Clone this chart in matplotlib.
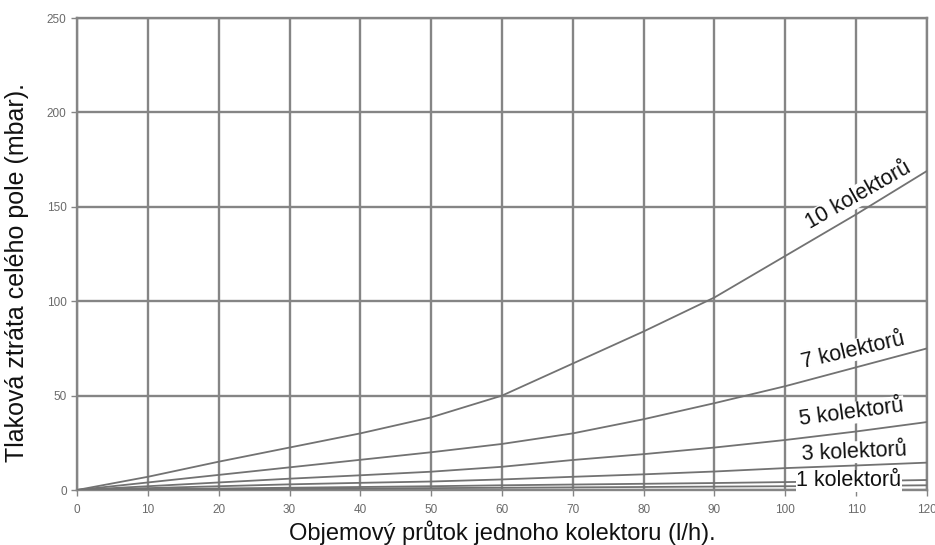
import matplotlib
matplotlib.use("Agg")
import matplotlib.pyplot as plt

plt.rcParams['font.family'] = ['Liberation Sans', 'DejaVu Sans']

# Data
flow = [0, 10, 20, 30, 40, 50, 60, 70, 80, 90, 100, 110, 120]
k10 = [0, 7, 15, 22.5, 30, 38.5, 50, 67, 84, 102, 124, 146, 169]
k7 = [0, 4, 8, 12, 16, 20, 24.4, 30, 37.5, 46, 55, 65, 75]
k5 = [0, 2, 4, 6, 7.8, 9.7, 12.3, 15.9, 19, 22.5, 26.5, 31, 36]
k3 = [0, 1, 2, 3, 3.8, 4.5, 5.6, 7, 8.3, 9.8, 11.6, 13, 14.5]
k1 = [0, 0.4, 0.8, 1.2, 1.6, 2, 2.5, 2.9, 3.3, 3.7, 4.2, 4.7, 5.3]
k0 = [0, 0.2, 0.4, 0.6, 0.8, 1, 1.2, 1.4, 1.6, 1.8, 2, 2.2, 2.5]

series = [k10, k7, k5, k3, k1, k0]
labels = ["10 kolektorů", "7 kolektorů", "5 kolektorů", "3 kolektorů", "1 kolektorů"]
label_pos = [(110.3, 156), (109.6, 74), (109.4, 40.8), (109.7, 20), (109, 4.8)]
label_rot = [29.5, 13, 7.5, 2.5, 0]

fig = plt.figure(figsize=(9.35, 5.45), dpi=100)
ax = fig.add_axes([0.0824, 0.1009, 0.909, 0.866])

for s in series:
    ax.plot(flow, s, color="#727272", lw=1.3, zorder=3)

for txt, (x, y), r in zip(labels, label_pos, label_rot):
    ax.text(x, y, txt, rotation=r, ha="center", va="center", fontsize=15.5,
            color="#111111", zorder=4, rotation_mode="anchor",
            bbox=dict(facecolor="white", edgecolor="none", pad=0.3))

ax.set_xlim(0, 120)
ax.set_ylim(0, 250)
ax.set_xticks(range(0, 121, 10))
ax.set_yticks(range(0, 251, 50))
ax.grid(True, color="#858585", lw=1.7)
ax.set_axisbelow(True)
for sp in ax.spines.values():
    sp.set_color("#858585")
    sp.set_linewidth(1.7)
ax.tick_params(colors="#858585", labelcolor="#6a6a6a", labelsize=8.5, length=4, width=1)
ax.tick_params(axis="x", pad=6)

ax.set_xlabel("Objemový průtok jednoho kolektoru (l/h).", fontsize=17, color="#111111", labelpad=3)
ax.set_ylabel("Tlaková ztráta celého pole (mbar).", fontsize=18, color="#111111")
ax.yaxis.set_label_coords(-0.056, 0.46)

fig.savefig("out.png", dpi=100)
